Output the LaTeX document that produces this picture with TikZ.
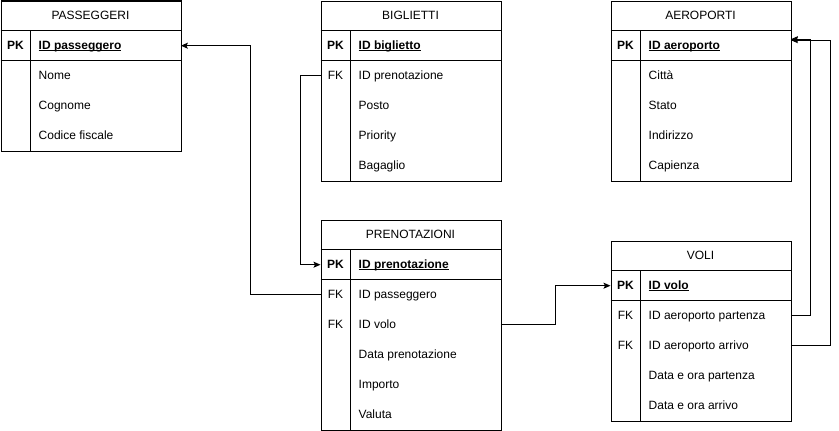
\documentclass[tikz,border=0pt]{standalone}
\usepackage{fontspec}
\setmainfont{Liberation Sans}
\usetikzlibrary{arrows.meta}
\newcommand\fs{\fontsize{12pt}{14pt}\selectfont}
\newcommand\pkf[1]{\bfseries\setbox0\hbox{#1}\rlap{\rule[-1.8pt]{\wd0}{0.9pt}}\box0}
\tikzset{
  tbl/.style={draw, line width=1pt, inner sep=0pt, minimum width=180pt, anchor=north west},
  rowbox/.style={inner sep=0pt, minimum width=180pt, minimum height=30pt, anchor=north west},
  fld/.style={inner sep=0pt, anchor=base west},
  keyt/.style={inner sep=0pt, anchor=base},
  ttl/.style={inner sep=0pt, anchor=base},
  sep/.style={line width=1pt},
  link/.style={line width=1pt, -{Stealth[length=7pt,width=6pt,inset=1.5pt]}},
}
% #1 name, #2 x, #3 y, #4 title, #5 number of rows, #6 rows
\newcommand\ertab[6]{%
  \node[tbl, minimum height={(#5+1)*30pt}] (#1) at (#2,#3) {};
  \draw[sep] (#2,{#3+30}) -- ++(180,0);
  \draw[sep] (#2,{#3+60}) -- ++(180,0);
  \draw[sep] ({#2+30},{#3+30}) -- ({#2+30},{#3+30*(#5+1)});
  \node[ttl] (#1-t) at ({#2+90},{#3+19}) {#4};
  \foreach \keyv/\fldv [count=\i] in {#6} {
    \node[rowbox] (#1-\i) at (#2,{#3+30*\i}) {};
    \node[keyt] (#1-k\i) at ({#2+15},{#3+30*\i+19}) {\keyv};
    \node[fld] (#1-f\i) at ({#2+38},{#3+30*\i+19}) {\fldv};
  }
}
\begin{document}
\begin{tikzpicture}[x=1pt,y=-1pt,font=\fs]
\useasboundingbox (0,0) rectangle (839,431);
\ertab{pas}{0.5}{0.5}{PASSEGGERI}{4}{{\textbf{PK}}/\pkf{ID passeggero}, {}/Nome, {}/Cognome, {}/Codice fiscale}
\ertab{big}{320.5}{0.5}{BIGLIETTI}{5}{{\textbf{PK}}/\pkf{ID biglietto}, FK/ID prenotazione, {}/Posto, {}/Priority, {}/Bagaglio}
\ertab{aer}{610.5}{0.5}{AEROPORTI}{5}{{\textbf{PK}}/\pkf{ID aeroporto}, {}/Città, {}/Stato, {}/Indirizzo, {}/Capienza}
\ertab{pre}{320.5}{219.5}{PRENOTAZIONI}{6}{{\textbf{PK}}/\pkf{ID prenotazione}, FK/ID passeggero, FK/ID volo, {}/Data prenotazione, {}/Importo, {}/Valuta}
\ertab{vol}{610.5}{240.5}{VOLI}{5}{{\textbf{PK}}/\pkf{ID volo}, FK/ID aeroporto partenza, FK/ID aeroporto arrivo, {}/Data e ora partenza, {}/Data e ora arrivo}
\draw[link] (pre-2.west) -- ++(-70,0) |- (pas-1.east);
\draw[link] (big-2.west) -- ++(-20,0) |- (pre-1.west);
\draw[link] (pre-3.east) -- ++(55,0) |- (vol-1.west);
\draw[link] (vol-2.east) -- ++(20,0) |- ([yshift=6.5pt]aer-1.east);
\draw[link] (vol-3.east) -- ++(40,0) |- ([yshift=5.5pt]aer-1.east);
\end{tikzpicture}
\end{document}
